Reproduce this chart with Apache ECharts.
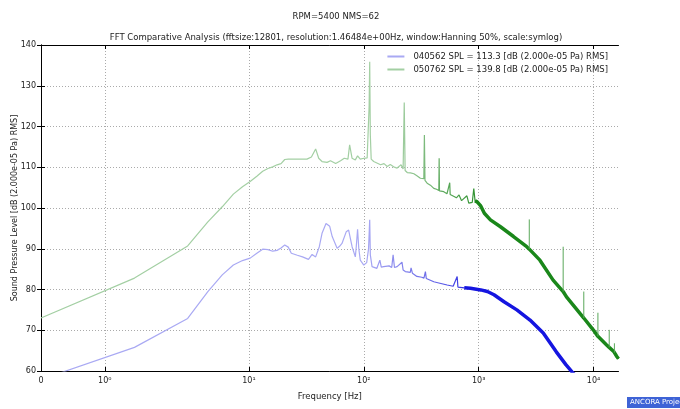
<!DOCTYPE html>
<html>
<head>
<meta charset="utf-8">
<script src="https://cdn.jsdelivr.net/npm/echarts@6/dist/echarts.min.js"></script>
<style>
  html, body { margin: 0; padding: 0; background: #fff; }
  #chart { width: 680px; height: 409px; }
</style>
</head>
<body>
<div id="chart"></div>
<script>
// 频谱数据
const blueName = '040562 SPL = 113.3 [dB (2.000e-05 Pa) RMS]';
const greenName = '050762 SPL = 139.8 [dB (2.000e-05 Pa) RMS]';

const blueFreq = [0, 1.465, 2.93, 4.39, 5.86, 7.32, 8.79, 10.25, 11.72, 13.18, 14.65, 16.11, 17.58, 19.04, 20.5, 22.0,
  23.4, 26.4, 29.3, 33.0, 35.5, 38.1, 41.0, 43.3, 46.9, 48.6, 50.5, 53.1, 58.6, 61.5, 64.6, 70.4, 73.8, 75.3,
  79.1, 84.4, 86.0, 88.3, 90.5, 93.2, 100, 106, 110, 112.6, 114, 118, 130, 138, 142, 149, 166, 175, 180, 185,
  195, 215, 220, 230, 254, 258, 265, 290, 320, 334, 344, 350, 407, 450, 532, 600, 650, 660, 750, 848, 1043,
  1191, 1360, 1663, 2150, 2800, 3650, 4740, 5770, 6500, 7700];
const blueDb = [57.9, 65.8, 72.9, 79.5, 83.6, 86.0, 87.1, 87.7, 88.9, 89.9, 89.8, 89.4, 89.6, 90.2, 90.9, 90.4,
  88.9, 88.4, 88.0, 87.4, 88.6, 88.0, 90.5, 93.8, 96.2, 96.6, 95.5, 93.0, 90.1, 90.6, 91.3, 94.2, 94.6, 94.5,
  90.5, 88.0, 90.5, 94.8, 90.0, 87.2, 86.0, 86.6, 90.0, 97.1, 88.5, 85.6, 85.2, 87.2, 85.5, 85.6, 85.8, 85.4, 88.5, 85.4,
  85.6, 86.7, 84.8, 84.4, 84.2, 85.3, 84.0, 83.2, 83.0, 82.8, 84.4, 82.7, 81.9, 81.6, 81.1, 80.8, 83.2, 80.6, 80.4, 80.3, 79.9,
  79.5, 78.7, 77.0, 75.0, 72.5, 69.3, 64.7, 61.5, 59.8, 57.5];

const greenFreq = [0, 1.465, 2.93, 4.39, 5.86, 7.32, 8.79, 10.25, 11.72, 13.18, 14.65, 16.11, 17.58, 19.04, 20.5, 22.0,
  32.0, 35.0, 38.1, 40.5, 43.3, 47.9, 51.3, 56.9, 62.8, 67.6, 72.8, 75.3, 79.1, 84.4, 88.3, 93.2, 100, 107, 111.3,
  112.6, 114, 116, 122, 140, 150, 160, 170, 182, 195, 211, 220, 225, 229, 239, 255, 273, 290, 311, 333, 337, 341,
  356, 380, 407, 430, 450, 453, 456, 497, 530, 560, 565, 611, 640, 675, 710, 739, 790, 820, 848, 880, 907, 930,
  970, 1043, 1121, 1266, 1548, 2012, 2620, 2759, 3413, 4448, 5441, 5816, 7587, 8227, 9939, 10920, 13000, 13700,
  14980, 15200, 16000, 16500];
const greenDb = [73.0, 82.8, 90.7, 96.6, 100.3, 103.4, 105.2, 106.5, 107.8, 109.0, 109.7, 110.1, 110.6, 110.9, 111.9, 112.0,
  112.0, 112.5, 114.5, 112.2, 111.4, 111.2, 111.6, 110.9, 111.6, 112.2, 112.0, 115.5, 112.2, 111.8, 112.8, 112.0, 112.2, 112.3, 125.0,
  135.9, 118.0, 112.0, 111.4, 110.6, 110.9, 110.2, 110.7, 110.1, 109.8, 110.6, 109.6, 125.9, 109.2, 108.7, 108.6, 108.4, 107.9, 107.3, 107.2, 117.9, 106.8,
  106.1, 105.6, 104.8, 104.6, 104.3, 112.2, 104.2, 104.0, 103.5, 106.2, 103.3, 102.8, 102.5, 103.2, 101.8, 101.5, 103.0, 101.2, 101.1, 101.4, 104.8, 101.8,
  101.5, 100.5, 98.7, 97.1, 95.4, 93.0, 90.5, 89.9, 87.2, 82.3, 79.5, 78.2, 74.2, 73.0, 70.1, 68.5, 66.4, 65.8,
  64.8, 64.5, 63.5, 63.0];

// 高频段的窄峰
const spikeFreq = [2759, 5441, 8227, 10920, 13700, 15200];
const spikeBase = [89.9, 79.5, 73.0, 68.5, 65.8, 64.5];
const spikeTop = [97.2, 90.5, 79.5, 74.3, 70.1, 66.8];

const tickFreqs = [0, 1, 10, 100, 1000, 10000];
const tickLabels = ['0', '10⁰', '10¹', '10²', '10³', '10⁴'];
const freqMax = 16500;

// matplotlib symlog (linthresh=2, linscale=1)
function symlog(f) {
  const lt = 2, ls = 1 / (1 - 1 / 10);
  return f <= lt ? f * ls : lt * (ls + Math.log10(f / lt));
}

const toPoints = (fs, ds, minF) => fs.map((f, i) => [symlog(f), ds[i], f]).filter(p => p[2] >= (minF || 0)).map(p => [p[0], p[1]]);

const spikeData = [];
spikeFreq.forEach((f, i) => {
  spikeData.push([symlog(f), spikeBase[i]], [symlog(f), spikeTop[i]], '-');
});

const tickT = tickFreqs.map(symlog);
const font = 'DejaVu Sans';
const textColor = '#222';

const chart = echarts.init(document.getElementById('chart'));

const option = {
  animation: false,
  backgroundColor: '#fff',
  textStyle: { fontFamily: font },
  title: [
    { text: 'RPM=5400 NMS=62', left: 331, top: 7, textAlign: 'center',
      textStyle: { fontSize: 8.5, fontWeight: 'normal', color: textColor, fontFamily: font } },
    { text: 'FFT Comparative Analysis (fftsize:12801, resolution:1.46484e+00Hz, window:Hanning 50%, scale:symlog)',
      left: 331, top: 28, textAlign: 'center',
      textStyle: { fontSize: 8.5, fontWeight: 'normal', color: textColor, fontFamily: font } }
  ],
  legend: {
    orient: 'vertical',
    right: 67,
    top: 47,
    itemGap: 4,
    itemWidth: 17,
    itemHeight: 2,
    icon: 'rect',
    textStyle: { fontSize: 8.5, color: textColor, fontFamily: font, padding: [0, 0, 0, 4] },
    data: [
      { name: blueName, itemStyle: { color: '#a9a9f3' } },
      { name: greenName, itemStyle: { color: '#a3cfa3' } }
    ]
  },
  grid: { left: 41, right: 61.5, top: 45, bottom: 38, containLabel: false, outerBoundsMode: 'none' },
  xAxis: [{
    type: 'value',
    min: 0,
    max: symlog(freqMax),
    name: 'Frequency [Hz]',
    nameLocation: 'middle',
    nameGap: 21,
    nameTextStyle: { fontSize: 8.5, color: textColor },
    axisLine: { lineStyle: { color: '#000', width: 1 } },
    axisTick: { inside: true, length: 4, customValues: tickT, lineStyle: { color: '#000' } },
    axisLabel: {
      customValues: tickT,
      fontSize: 8, color: textColor, margin: 6,
      formatter: v => tickLabels[tickT.findIndex(t => Math.abs(t - v) < 1e-6)] || ''
    },
    splitLine: { show: true, lineStyle: { color: '#aaa', type: [1, 2], width: 1 } }
  }, {
    type: 'value',
    position: 'top',
    min: 0,
    max: symlog(freqMax),
    axisLine: { lineStyle: { color: '#000', width: 1 } },
    axisTick: { inside: true, length: 4, customValues: tickT, lineStyle: { color: '#000' } },
    axisLabel: { show: false },
    splitLine: { show: false }
  }],
  yAxis: [{
    type: 'value',
    min: 60,
    max: 140,
    interval: 10,
    name: 'Sound Pressure Level [dB (2.000e-05 Pa) RMS]',
    nameLocation: 'middle',
    nameRotate: 90,
    nameGap: 22,
    nameMoveOverlap: false,
    nameTextStyle: { fontSize: 8, color: textColor },
    axisLine: { show: true, lineStyle: { color: '#000', width: 1 } },
    axisTick: { show: true, inside: true, length: 4, lineStyle: { color: '#000' } },
    axisLabel: { fontSize: 8, color: textColor, margin: 5 },
    splitLine: { show: true, lineStyle: { color: '#aaa', type: [1, 2], width: 1 } }
  }, {
    type: 'value',
    position: 'right',
    min: 60,
    max: 140,
    interval: 10,
    axisLine: { show: true, lineStyle: { color: '#000', width: 1 } },
    axisTick: { show: true, inside: true, length: 4, lineStyle: { color: '#000' } },
    axisLabel: { show: false },
    splitLine: { show: false }
  }],
  series: [
    {
      name: blueName, type: 'line', showSymbol: false, z: 2,
      data: toPoints(blueFreq, blueDb),
      lineStyle: {
        width: 1.2,
        color: new echarts.graphic.LinearGradient(0, 0, 1, 0, [
          { offset: 0, color: '#a9a9f3' },
          { offset: 0.6, color: '#a9a9f3' },
          { offset: 0.72, color: '#6a6ae8' },
          { offset: 0.82, color: '#1515e0' },
          { offset: 1, color: '#1515e0' }
        ])
      },
      itemStyle: { color: '#a9a9f3' }
    },
    {
      name: greenName, type: 'line', showSymbol: false, z: 2,
      data: toPoints(greenFreq, greenDb),
      lineStyle: {
        width: 1.2,
        color: new echarts.graphic.LinearGradient(0, 0, 1, 0, [
          { offset: 0, color: '#a3cfa3' },
          { offset: 0.62, color: '#a3cfa3' },
          { offset: 0.7, color: '#5aa85a' },
          { offset: 0.78, color: '#1a871a' },
          { offset: 1, color: '#1a871a' }
        ])
      },
      itemStyle: { color: '#a3cfa3' }
    },
    {
      name: blueName, type: 'line', showSymbol: false, z: 3,
      data: toPoints(blueFreq, blueDb, 700),
      lineStyle: { width: 3.5, color: '#1515e0' },
      itemStyle: { color: '#a9a9f3' }
    },
    {
      name: greenName, type: 'line', showSymbol: false, z: 3,
      data: toPoints(greenFreq, greenDb, 930),
      lineStyle: { width: 3.5, color: '#1a871a' },
      itemStyle: { color: '#a3cfa3' }
    },
    {
      name: greenName, type: 'line', showSymbol: false, z: 4,
      data: spikeData,
      lineStyle: { width: 1, color: '#5aa85a' },
      itemStyle: { color: '#a3cfa3' }
    }
  ],
  graphic: [
    { type: 'rect', left: 627, top: 397, shape: { width: 60, height: 11 }, style: { fill: '#3e63d6' } },
    { type: 'text', left: 630, top: 399, style: { text: 'ANCORA Project', fill: '#fff', fontSize: 7, fontFamily: font } }
  ]
};

chart.setOption(option);
</script>
</body>
</html>
